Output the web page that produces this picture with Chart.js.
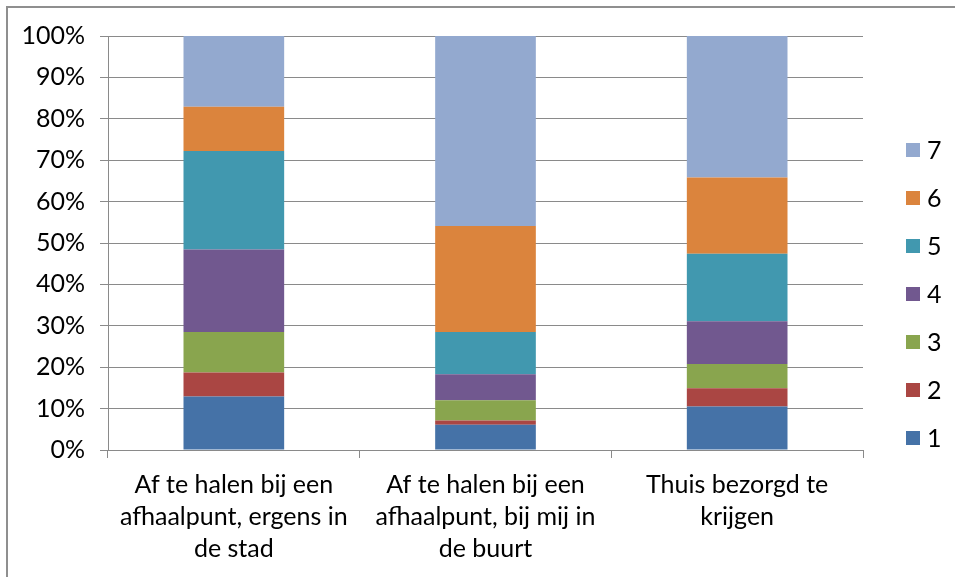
<!DOCTYPE html>
<html>
<head>
<meta charset="utf-8">
<script src="https://cdn.jsdelivr.net/npm/chart.js@4"></script>
<style>
  body { margin: 0; background: #fff; }
  #wrap { position: relative; width: 955px; height: 577px; overflow: hidden; }
  #frame { position: absolute; left: 6px; top: 6px; width: 1000px; height: 1000px;
           border-left: 2px solid #8f8f8f; border-top: 2px solid #8f8f8f; pointer-events: none; }
  canvas { position: absolute; left: 0; top: 0; }
</style>
</head>
<body>
<div id="wrap">
  <canvas id="chart" width="955" height="577"></canvas>
  <div id="frame"></div>
</div>
<script>
const categories = [
  ["Af te halen bij een", "afhaalpunt, ergens in", "de stad"],
  ["Af te halen bij een", "afhaalpunt, bij mij in", "de buurt"],
  ["Thuis bezorgd te", "krijgen"]
];

const seriesNames = ["1", "2", "3", "4", "5", "6", "7"];
const seriesColors = ["#4572A7", "#AA4643", "#89A54E", "#71588F", "#4198AF", "#DB843D", "#93A9CF"];

// percentages per answer, one array per category column
const s1 = [12.9, 6.1, 10.5];
const s2 = [5.8, 1.0, 4.4];
const s3 = [9.8, 4.9, 5.9];
const s4 = [19.9, 6.3, 10.3];
const s5 = [23.8, 10.2, 16.3];
const s6 = [10.7, 25.6, 18.4];
const s7 = [17.1, 45.9, 34.2];
const seriesValues = [s1, s2, s3, s4, s5, s6, s7];

const yTicks = [0, 10, 20, 30, 40, 50, 60, 70, 80, 90, 100];

const fontFamily = "Lato, 'Open Sans', sans-serif";
const axisGray = "#8a8a8a";

// legend at the right, 7 on top
const sideLegend = {
  id: 'sideLegend',
  afterDraw(chart) {
    const ctx = chart.ctx;
    ctx.save();
    ctx.font = "25px " + fontFamily;
    ctx.textBaseline = "middle";
    ctx.textAlign = "left";
    const n = chart.data.datasets.length;
    chart.data.datasets.forEach((ds, i) => {
      const y = 150 + (n - 1 - i) * 48;
      ctx.fillStyle = ds.backgroundColor;
      ctx.fillRect(906, y - 7, 14, 14);
      ctx.fillStyle = "#000";
      ctx.fillText(ds.label, 927, y + 1);
    });
    ctx.restore();
  }
};

const ctx = document.getElementById('chart').getContext('2d');
const chart = new Chart(ctx, {
  type: 'bar',
  data: {
    labels: categories,
    datasets: seriesValues.map((vals, i) => ({
      label: seriesNames[i],
      data: vals,
      backgroundColor: seriesColors[i],
      borderWidth: 0,
      barPercentage: 0.4,
      categoryPercentage: 1
    }))
  },
  options: {
    responsive: false,
    animation: false,
    layout: { padding: { top: 36, right: 92, left: 0, bottom: 0 } },
    plugins: {
      legend: { display: false },
      tooltip: { enabled: false }
    },
    scales: {
      x: {
        stacked: true,
        grid: { offset: true, drawOnChartArea: false, drawTicks: true, tickLength: 8, color: axisGray },
        border: { display: true, color: axisGray, width: 1 },
        ticks: {
          color: "#000",
          padding: 11,
          maxRotation: 0,
          font: { family: fontFamily, size: 25, lineHeight: '32px' }
        },
        afterFit(scale) { scale.height = 127; }
      },
      y: {
        stacked: true,
        min: 0,
        max: 100,
        afterBuildTicks(scale) { scale.ticks = yTicks.map(v => ({ value: v })); },
        grid: { color: axisGray, lineWidth: 1, drawTicks: true, tickLength: 8 },
        border: { display: true, color: axisGray, width: 1 },
        ticks: {
          color: "#000",
          padding: 15,
          font: { family: fontFamily, size: 25 },
          callback: v => v + '%'
        },
        afterFit(scale) { scale.width = 108; }
      }
    }
  },
  plugins: [sideLegend]
});
</script>
</body>
</html>
